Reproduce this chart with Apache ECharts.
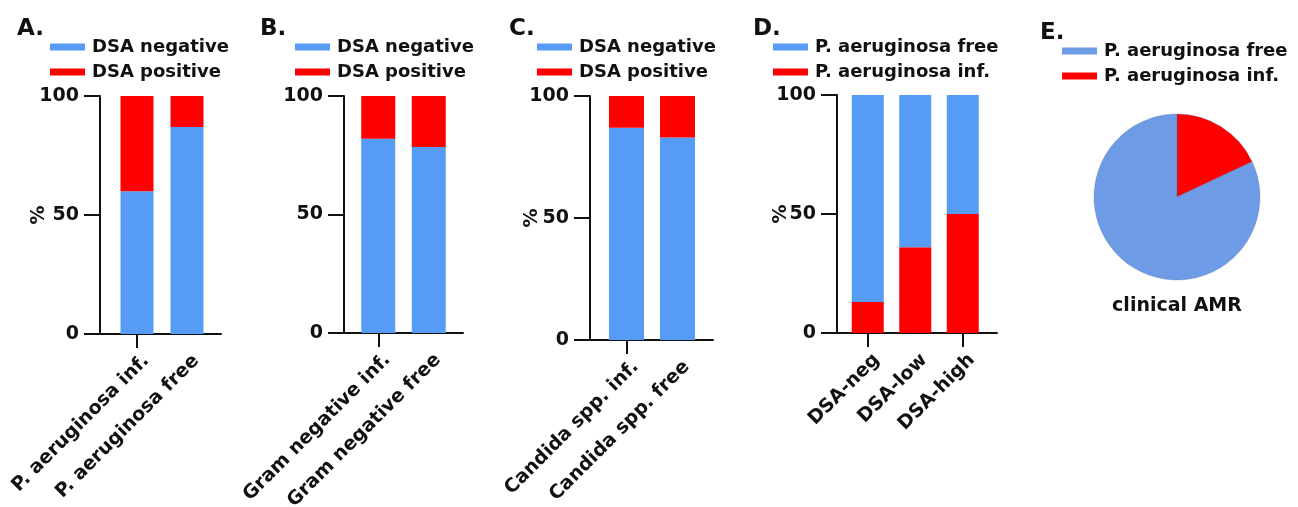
<!DOCTYPE html>
<html>
<head>
<meta charset="utf-8">
<script src="https://cdn.jsdelivr.net/npm/echarts@6/dist/echarts.min.js"></script>
<style>
html,body{margin:0;padding:0;background:#fff;}
#chart{width:1298px;height:507px;}
</style>
</head>
<body>
<div id="chart"></div>
<script>
// ---------- DATA ----------
const catsA = ['P. aeruginosa inf.', 'P. aeruginosa free'];
const negA = [60, 87];
const posA = [40, 13];

const catsB = ['Gram negative inf.', 'Gram negative free'];
const negB = [82, 78.5];
const posB = [18, 21.5];

const catsC = ['Candida spp. inf.', 'Candida spp. free'];
const negC = [87, 83];
const posC = [13, 17];

const catsD = ['DSA-neg', 'DSA-low', 'DSA-high'];
const infD = [13, 36, 50];
const freeD = [87, 64, 50];

const pieNames = ['P. aeruginosa inf.', 'P. aeruginosa free'];
const pieValues = [18, 82];

const yMin = 0, yMax = 100, yStep = 50;
const panelTitles = ['A.', 'B.', 'C.', 'D.', 'E.'];
const pieTitle = 'clinical AMR';

// ---------- STYLE ----------
const FONT = 'DejaVu Sans';
const BLUE = '#569CF6';
const PIE_BLUE = '#6D9BE6';
const RED = '#FF0000';
const INK = '#111111';

const layouts = [
  {axisX: 100, axisEnd: 221, top: 96, bottom: 334, catLeft: 112, catWidth: 100, barWidth: 33, nameGap: 51, legendLeft: 50, legendTop: 37, titleLeft: 17},
  {axisX: 344, axisEnd: 463, top: 96, bottom: 333, catLeft: 353, catWidth: 101, barWidth: 34, nameGap: null, legendLeft: 295, legendTop: 37, titleLeft: 260},
  {axisX: 590, axisEnd: 713, top: 96, bottom: 340, catLeft: 601, catWidth: 102, barWidth: 35, nameGap: 48, legendLeft: 537, legendTop: 37, titleLeft: 509},
  {axisX: 837, axisEnd: 997, top: 95, bottom: 333, catLeft: 844, catWidth: 142.5, barWidth: 32, nameGap: 46, legendLeft: 773, legendTop: 37, titleLeft: 753}
];

const panels = [
  {cats: catsA, stack: [{name: 'DSA negative', data: negA, color: BLUE}, {name: 'DSA positive', data: posA, color: RED}], legend: ['DSA negative', 'DSA positive']},
  {cats: catsB, stack: [{name: 'DSA negative', data: negB, color: BLUE}, {name: 'DSA positive', data: posB, color: RED}], legend: ['DSA negative', 'DSA positive']},
  {cats: catsC, stack: [{name: 'DSA negative', data: negC, color: BLUE}, {name: 'DSA positive', data: posC, color: RED}], legend: ['DSA negative', 'DSA positive']},
  {cats: catsD, stack: [{name: 'P. aeruginosa inf.', data: infD, color: RED}, {name: 'P. aeruginosa free', data: freeD, color: BLUE}], legend: ['P. aeruginosa free', 'P. aeruginosa inf.']}
];

const colorOf = {};
const grid = [], xAxis = [], yAxis = [], series = [], legend = [], title = [];
const legendText = {fontFamily: FONT, fontWeight: 'bold', fontSize: 18, color: INK, lineHeight: 20, padding: [0, 0, 0, 2]};

panels.forEach((p, i) => {
  const L = layouts[i];
  const h = L.bottom - L.top;
  const g0 = grid.length;
  grid.push({left: L.axisX, top: L.top, width: L.axisEnd - L.axisX, height: h, outerBoundsMode: 'none', containLabel: false});
  grid.push({left: L.catLeft, top: L.top, width: L.catWidth, height: h, outerBoundsMode: 'none', containLabel: false});
  grid.push({left: L.catLeft + 9, top: L.top, width: L.catWidth, height: h, outerBoundsMode: 'none', containLabel: false});

  xAxis.push({gridIndex: g0, type: 'value', min: 0, max: 1, axisLine: {show: true, onZero: false, lineStyle: {color: INK, width: 2}}, axisTick: {show: false}, axisLabel: {show: false}, splitLine: {show: false}});
  yAxis.push({gridIndex: g0, type: 'value', min: yMin, max: yMax, interval: yStep,
    name: L.nameGap ? '%' : '', nameLocation: 'middle', nameRotate: 90, nameGap: L.nameGap || 0, nameMoveOverlap: false,
    nameTextStyle: {fontFamily: FONT, fontWeight: 'bold', fontSize: 19, color: INK},
    axisLine: {show: true, onZero: false, lineStyle: {color: INK, width: 2}},
    axisTick: {show: true, length: 16, lineStyle: {color: INK, width: 2}},
    axisLabel: {margin: 21, fontFamily: FONT, fontWeight: 'bold', fontSize: 19, color: INK},
    splitLine: {show: false}});

  xAxis.push({gridIndex: g0 + 1, type: 'category', data: p.cats, axisLine: {show: false}, axisTick: {show: true, alignWithLabel: true, length: 14, lineStyle: {color: INK, width: 2}}, axisLabel: {show: false}, splitLine: {show: false}});
  yAxis.push({gridIndex: g0 + 1, type: 'value', min: yMin, max: yMax, show: false});

  xAxis.push({gridIndex: g0 + 2, type: 'category', data: p.cats, axisLine: {show: false}, axisTick: {show: false},
    axisLabel: {rotate: 45, margin: 24, interval: 0, fontFamily: FONT, fontWeight: 'bold', fontSize: 19, color: INK}});
  yAxis.push({gridIndex: g0 + 2, type: 'value', min: yMin, max: yMax, show: false});

  const axIdx = xAxis.length - 2;
  p.stack.forEach(s => {
    colorOf[s.name] = s.color;
    series.push({type: 'bar', name: s.name, stack: 'p' + i, xAxisIndex: axIdx, yAxisIndex: axIdx,
      data: s.data, barWidth: L.barWidth, itemStyle: {color: s.color}, silent: true, emphasis: {disabled: true}, animation: false});
  });

  legend.push({orient: 'vertical', left: L.legendLeft, top: L.legendTop, padding: 0, icon: 'rect', itemWidth: 35, itemHeight: 7, itemGap: 5,
    selectedMode: false, textStyle: legendText,
    data: p.legend.map(n => ({name: n, itemStyle: {color: colorOf[n]}}))});

  title.push({text: panelTitles[i], left: L.titleLeft, top: 18, padding: 0, textStyle: {fontFamily: FONT, fontWeight: 'bold', fontSize: 23, color: INK}});
});

// Pie panel E
const pieColors = [RED, PIE_BLUE];
series.push({type: 'pie', center: [1177, 197], radius: 83, startAngle: 90, clockwise: true,
  label: {show: false}, labelLine: {show: false}, silent: true, emphasis: {disabled: true}, animation: false,
  itemStyle: {borderColor: 'rgba(70,90,150,0.45)', borderWidth: 0.6},
  data: pieNames.map((n, k) => ({name: n, value: pieValues[k], itemStyle: {color: pieColors[k]}}))});
legend.push({orient: 'vertical', left: 1062, top: 41, padding: 0, icon: 'rect', itemWidth: 35, itemHeight: 7, itemGap: 5, selectedMode: false,
  textStyle: legendText,
  data: [{name: pieNames[1], itemStyle: {color: PIE_BLUE}}, {name: pieNames[0], itemStyle: {color: RED}}]});
title.push({text: panelTitles[4], left: 1040, top: 22, padding: 0, textStyle: {fontFamily: FONT, fontWeight: 'bold', fontSize: 23, color: INK}});
title.push({text: pieTitle, left: 1177, top: 297, padding: 0, textAlign: 'center', textStyle: {fontFamily: FONT, fontWeight: 'bold', fontSize: 19, color: INK}});

const chart = echarts.init(document.getElementById('chart'), null, {renderer: 'canvas'});
chart.setOption({animation: false, backgroundColor: '#fff', title, legend, grid, xAxis, yAxis, series, tooltip: {show: false}});
</script>
</body>
</html>
